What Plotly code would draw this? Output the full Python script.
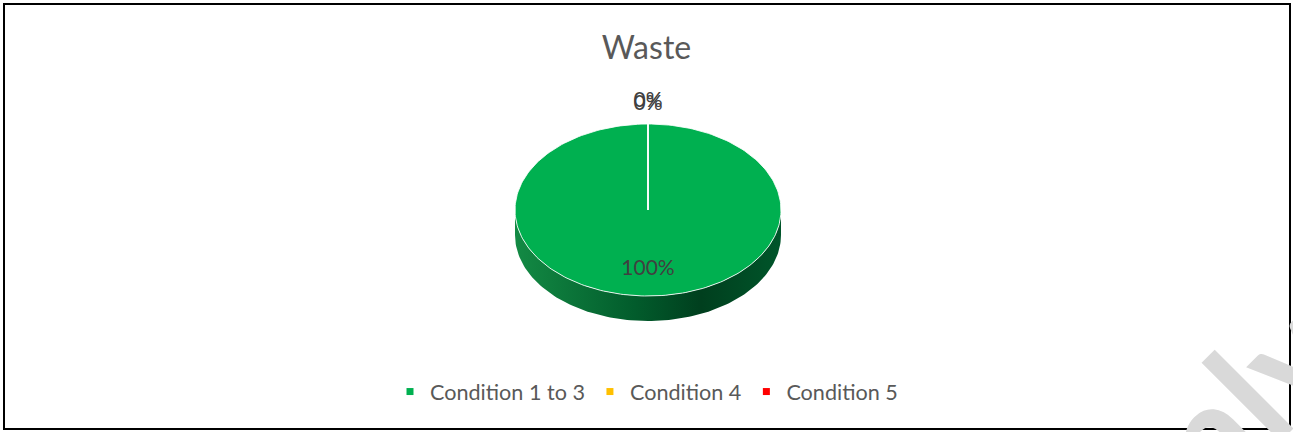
import numpy as np
import plotly.graph_objects as go

# chart data
categories = ["Condition 1 to 3", "Condition 4", "Condition 5"]
values = [100, 0, 0]
colors = ["#00B050", "#FFC000", "#FF0000"]
side_scales = [
    [[0, "#138a44"], [0.45, "#025c2c"], [0.7, "#003f1e"], [1, "#00552a"]],
    [[0, "#d99e00"], [0.6, "#8a6500"], [1, "#a07500"]],
    [[0, "#d40000"], [0.6, "#800000"], [1, "#990000"]],
]
chart_title = "Waste"
watermark = "Only"

# layout in pixel units (1 axis unit = 1 px)
W, H = 1293, 432
CX, CY = 648, 210       # centre of the top face
RX, RY = 133, 86        # ellipse radii of the tilted pie
DEPTH = 25              # thickness of the 3-D wall
FONT = "Lato"

total = float(sum(values))
shares = np.array(values) / total
ends = np.cumsum(shares) * 2 * np.pi
starts = ends - shares * 2 * np.pi


def arc(a0, a1, dy=0.0):
    # angles are clockwise from 12 o'clock
    n = max(2, int(240 * (a1 - a0) / (2 * np.pi)) + 2)
    t = np.linspace(a0, a1, n)
    return CX + RX * np.sin(t), CY - RY * np.cos(t) + dy


fig = go.Figure()

# front wall (only the part between 3 and 9 o'clock is visible)
for i, name in enumerate(categories):
    s = max(starts[i], np.pi / 2)
    e = min(ends[i], 3 * np.pi / 2)
    if e <= s:
        continue
    xt, yt = arc(s, e)
    xb, yb = arc(s, e, DEPTH)
    fig.add_trace(go.Scatter(
        x=np.concatenate([xt, xb[::-1], xt[:1]]),
        y=np.concatenate([yt, yb[::-1], yt[:1]]),
        mode="lines", line=dict(width=0), fill="toself",
        fillgradient=dict(type="horizontal", colorscale=side_scales[i]),
        hoverinfo="skip", showlegend=False, legendgroup=name,
    ))

# top faces
for i, name in enumerate(categories):
    xa, ya = arc(starts[i], ends[i])
    fig.add_trace(go.Scatter(
        x=np.concatenate([[CX], xa, [CX]]),
        y=np.concatenate([[CY], ya, [CY]]),
        mode="lines", fill="toself", fillcolor=colors[i],
        line=dict(color="rgba(255,255,255,0.85)", width=1),
        name=name, legendgroup=name, showlegend=False,
        hovertemplate=f"{name}: {values[i]}<extra></extra>",
    ))

# data labels (tiny slices go outside, and nudge apart a little)
lx, ly, lt = [], [], []
n_small = 0
for i in range(len(categories)):
    m = (starts[i] + ends[i]) / 2
    if shares[i] >= 0.05:
        k, nudge = 0.7, 0.0
    else:
        k, nudge = 1.24, -1.5 + 3 * n_small
        n_small += 1
    lx.append(CX + k * RX * np.sin(m))
    ly.append(CY - k * RY * np.cos(m) + nudge)
    lt.append(f"{round(shares[i] * 100)}%")
fig.add_trace(go.Scatter(
    x=lx, y=ly, text=lt, mode="text",
    textfont=dict(family=FONT, size=21, color="#404040"),
    hoverinfo="skip", showlegend=False,
))

# legend entries (small squares)
for i, name in enumerate(categories):
    fig.add_trace(go.Scatter(
        x=[None], y=[None], mode="markers", name=name, legendgroup=name,
        marker=dict(symbol="square", size=7, color=colors[i]),
    ))

fig.update_layout(
    width=W, height=H,
    margin=dict(l=0, r=0, t=0, b=0),
    paper_bgcolor="white", plot_bgcolor="white",
    xaxis=dict(range=[0, W], visible=False, fixedrange=True),
    yaxis=dict(range=[H, 0], visible=False, fixedrange=True),
    title=dict(text=chart_title, x=0.5, xanchor="center",
               y=1 - 48 / H, yanchor="middle",
               font=dict(family=FONT, size=32, color="#595959")),
    legend=dict(orientation="h", x=0.5, xanchor="center",
                y=1 - 392 / H, yanchor="middle",
                font=dict(family=FONT, size=21.6, color="#595959"),
                bgcolor="rgba(0,0,0,0)"),
    # faint page watermark, mostly outside the frame
    annotations=[dict(text=watermark, x=1202 / W, y=1 - 438 / H,
                      xref="paper", yref="paper", showarrow=False,
                      xanchor="center", yanchor="middle", textangle=-45,
                      font=dict(family=FONT, size=150, color="#d9d9d9",
                                weight="bold"))],
    shapes=[dict(type="rect", xref="paper", yref="paper",
                 x0=4 / W, x1=1290 / W, y0=1 - 429 / H, y1=1 - 4 / H,
                 line=dict(color="black", width=2))],
    showlegend=True,
)

fig.write_html("out.html", config={"displayModeBar": False},
               post_script="document.body.style.margin='0';")
